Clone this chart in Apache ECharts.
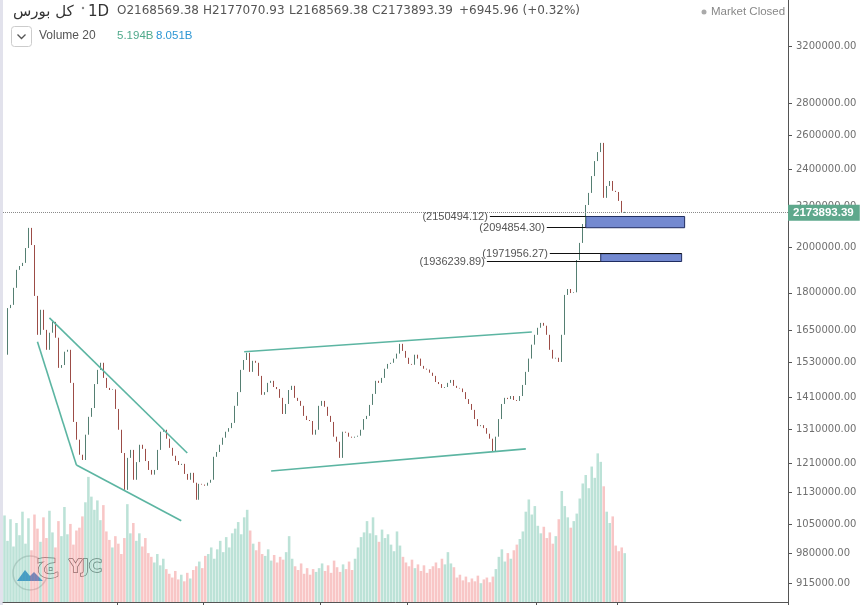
<!DOCTYPE html>
<html>
<head>
<meta charset="utf-8">
<script src="https://cdn.jsdelivr.net/npm/echarts@6/dist/echarts.min.js"></script>
<style>
  html, body { margin: 0; padding: 0; background: #fff; }
  #chart { width: 863px; height: 605px; }
</style>
</head>
<body>
<div id="chart"></div>
<script>
// closing prices, one per daily slot
const closes = [
  1558000, 1737000, 1750000, 1821000, 1899000, 1916000, 1930000, 1998000, 2094000, 2012000,
  1787000, 1632000, 1730000, 1651000, 1576000, 1640000, 1682000, 1621000, 1511000, 1521000,
  1569000, 1576000, 1459000, 1332000, 1278000, 1234000, 1219000, 1293000, 1348000, 1376000,
  1455000, 1504000, 1529000, 1476000, 1442000, 1435000, 1437000, 1373000, 1308000, 1239000,
  1137000, 1225000, 1248000, 1164000, 1213000, 1263000, 1251000, 1216000, 1191000, 1178000,
  1191000, 1248000, 1302000, 1308000, 1281000, 1254000, 1231000, 1216000, 1205000, 1208000,
  1180000, 1164000, 1183000, 1156000, 1111000, 1153000, 1151000, 1148000, 1156000, 1164000,
  1228000, 1242000, 1263000, 1284000, 1302000, 1313000, 1329000, 1383000, 1428000, 1504000,
  1539000, 1565000, 1497000, 1536000, 1529000, 1483000, 1419000, 1428000, 1459000, 1466000,
  1445000, 1438000, 1409000, 1357000, 1389000, 1435000, 1449000, 1409000, 1399000, 1383000,
  1351000, 1338000, 1335000, 1293000, 1308000, 1383000, 1399000, 1380000, 1351000, 1332000,
  1287000, 1272000, 1225000, 1302000, 1299000, 1287000, 1284000, 1287000, 1290000, 1308000,
  1341000, 1351000, 1386000, 1422000, 1466000, 1459000, 1476000, 1508000, 1525000, 1529000,
  1544000, 1562000, 1598000, 1572000, 1547000, 1525000, 1522000, 1558000, 1544000, 1518000,
  1508000, 1505000, 1494000, 1483000, 1462000, 1455000, 1442000, 1445000, 1459000, 1469000,
  1449000, 1442000, 1440000, 1428000, 1405000, 1389000, 1370000, 1341000, 1319000, 1322000,
  1313000, 1296000, 1281000, 1242000, 1287000, 1341000, 1389000, 1409000, 1405000, 1415000,
  1402000, 1399000, 1415000, 1452000, 1497000, 1544000, 1595000, 1632000, 1659000, 1678000,
  1667000, 1632000, 1576000, 1544000, 1547000, 1532000, 1632000, 1791000, 1816000, 1799000,
  1802000, 1943000, 2022000, 2113000, 2209000, 2272000, 2363000, 2447000, 2499000, 2553000,
  2246000, 2309000, 2336000, 2283000, 2277000, 2230000, 2168569.38, 2173893.39
];

// volume in billions
const volumes = [
  9.2, 6.5, 8.8, 5.9, 8.4, 7.1, 9.6, 6.2, 8.9, 5.5,
  9.3, 7.8, 6.4, 9.0, 6.8, 9.7, 7.4, 5.8, 8.6, 7.0,
  10.1, 7.2, 8.3, 6.1, 7.6, 7.9, 9.1, 10.6, 13.3, 11.2,
  9.8, 10.8, 8.7, 10.3, 7.5, 6.6, 5.8, 7.0, 6.2, 5.1,
  6.8, 10.4, 7.3, 8.4, 6.5, 7.3, 5.9, 6.8, 5.2, 4.8,
  4.2, 5.1, 3.9, 4.6, 3.5, 3.0, 2.6, 3.3, 2.4, 2.9,
  2.2, 3.1, 2.5, 3.4, 3.8, 4.3, 3.6, 4.9, 5.1, 5.8,
  4.6, 5.6, 6.5, 5.3, 6.9, 5.8, 7.3, 7.8, 8.5, 7.2,
  9.0, 9.8, 7.6, 6.2, 5.5, 6.4, 5.1, 4.9, 5.6, 4.4,
  5.0, 4.2, 4.8, 4.5, 5.3, 7.0, 4.6, 3.8, 3.4, 4.1,
  3.0, 3.6, 2.9, 3.5, 3.2, 3.6, 4.1, 3.3, 3.9, 3.1,
  4.4, 3.7, 3.2, 4.0, 3.5, 4.3, 3.4, 4.6, 5.8, 6.9,
  7.4, 8.6, 7.3, 9.0, 7.1, 6.4, 7.7, 6.8, 7.2, 6.1,
  5.4, 7.5, 6.0, 4.8, 4.2, 3.8, 4.5, 3.6, 4.0, 3.3,
  3.9, 3.1, 3.5, 3.8, 4.2, 3.6, 4.6, 4.0, 5.3, 4.1,
  3.7, 2.6, 2.9, 2.3, 2.7, 2.1, 2.5, 2.2, 2.8, 2.0,
  2.4, 2.6, 2.1, 2.7, 3.5, 4.8, 5.6, 4.3, 5.2, 4.6,
  5.5, 6.1, 6.7, 7.5, 9.6, 10.9, 9.3, 10.2, 8.1, 7.3,
  8.0, 6.8, 7.4, 6.2, 7.0, 8.8, 11.8, 10.2, 9.0, 7.9,
  8.6, 9.4, 11.0, 12.6, 13.5, 12.1, 14.4, 13.2, 15.8, 14.9,
  12.3, 9.6, 8.4, 9.1, 6.0, 5.4, 5.8, 5.194
];

const yTicks = [915000, 980000, 1050000, 1130000, 1210000, 1310000, 1410000, 1530000,
  1650000, 1800000, 2000000, 2200000, 2400000, 2600000, 2800000, 3200000];
const xTickSlots = [38, 67, 106, 135, 178, 205];
const slotCount = 262;          // daily slots incl. empty future space
const priceMin = 875400, priceMax = 3562300;
const volMax = 64;

// last bar info for the header
const lastBar = { o: 2168569.38, h: 2177070.93, l: 2168569.38, c: 2173893.39, chg: 6945.96, pct: 0.32 };
const volLast = 5.194, volMA = 8.051;

// drawn trend lines: [slot, price] -> [slot, price]
const trendLines = [
  [[15, 1698000], [61, 1239000]],
  [[11, 1606000], [24, 1205000]],
  [[24, 1205000], [59, 1058000]],
  [[80, 1569000], [176, 1643000]],
  [[89, 1188000], [174, 1251000]]
];
// order block levels and their slot spans
const obLevels = [2150494.12, 2094854.30, 1971956.27, 1936239.89];
const obLineSpans = [[162, 194], [181, 194], [182, 226], [161, 199]];
const obBoxes = [[194, 227, 0, 1], [199, 226, 2, 3]];

const L = Math.log;
const slots = Array.from({ length: slotCount }, (_, i) => i);

const upColor = '#557f72', downColor = '#9c4c46';
const ohlc = closes.map((c, i) => {
  const o = i ? closes[i - 1] : c;
  return [L(o), L(c), L(Math.min(o, c)), L(Math.max(o, c))];
});
const volData = volumes.map((v, i) => {
  const up = closes[i] >= (i ? closes[i - 1] : closes[i]);
  return { value: v, itemStyle: { color: up ? 'rgba(96,186,160,0.42)' : 'rgba(238,118,118,0.42)' } };
});

const tickLabel = v => {
  const t = yTicks.find(t => Math.abs(L(t) - v) < 1e-6);
  return t ? t.toFixed(2) : '';
};

const markLines = [
  {
    yAxis: L(lastBar.c),
    lineStyle: { color: '#8a8a8a', type: 'dotted', width: 1 },
    label: {
      show: true, position: 'end', distance: 0, formatter: lastBar.c.toFixed(2),
      backgroundColor: '#5ea88c', color: '#fff', fontWeight: 'bold',
      fontFamily: 'Liberation Sans', fontSize: 11.5, padding: [2, 6, 2, 5]
    }
  }
];
trendLines.forEach(([a, b]) => {
  markLines.push([
    { coord: [a[0], L(a[1])], lineStyle: { color: '#5cb5a2', width: 1.6, type: 'solid' }, label: { show: false } },
    { coord: [b[0], L(b[1])] }
  ]);
});
obLineSpans.forEach(([s1, s2], k) => {
  markLines.push([
    {
      coord: [s1, L(obLevels[k])], lineStyle: { color: '#111', width: 1.2, type: 'solid' },
      label: {
        show: true, position: 'start', distance: 2, formatter: '(' + obLevels[k].toFixed(2) + ')',
        color: '#555', fontSize: 11, fontFamily: 'Liberation Sans'
      }
    },
    { coord: [s2, L(obLevels[k])] }
  ]);
});

const txt = (x, y, text, size, color, family) => ({
  type: 'text', x, y, silent: true,
  style: { text, fill: color, font: size + 'px "' + (family || 'DejaVu Sans') + '"', verticalAlign: 'middle', align: 'left' }
});

const chart = echarts.init(document.getElementById('chart'));
chart.setOption({
  animation: false,
  backgroundColor: '#fff',
  grid: { left: 3, right: 75, top: 0, bottom: 3, outerBoundsMode: 'none' },
  xAxis: {
    type: 'category', data: slots, boundaryGap: true,
    axisLine: { lineStyle: { color: '#555' } },
    axisTick: { show: true, length: 4, interval: i => xTickSlots.includes(i), lineStyle: { color: '#555' } },
    axisLabel: { show: false },
    splitLine: { show: false }
  },
  yAxis: [
    {
      type: 'value', position: 'right', min: L(priceMin), max: L(priceMax),
      axisLine: { show: true, lineStyle: { color: '#555' } },
      axisTick: { show: true, length: 4, customValues: yTicks.map(L), lineStyle: { color: '#555' } },
      axisLabel: {
        customValues: yTicks.map(L), formatter: tickLabel, color: '#707070',
        fontSize: 10, fontFamily: 'DejaVu Sans', margin: 8
      },
      splitLine: { show: false }
    },
    { type: 'value', min: 0, max: volMax, show: false, splitLine: { show: false } }
  ],
  series: [
    {
      type: 'bar', yAxisIndex: 1, data: volData, barWidth: '85%', silent: true
    },
    {
      type: 'candlestick', data: ohlc, barWidth: 1, silent: true,
      itemStyle: { color: upColor, color0: downColor, borderColor: upColor, borderColor0: downColor, borderWidth: 1 },
      markLine: { symbol: 'none', silent: true, animation: false, data: markLines },
      markArea: {
        silent: true,
        itemStyle: { color: '#7389d0', borderColor: '#1f2c60', borderWidth: 1 },
        data: obBoxes.map(([s1, s2, a, b]) => [{ coord: [s1, L(obLevels[a])] }, { coord: [s2, L(obLevels[b])] }])
      }
    }
  ],
  graphic: [
    { type: 'rect', shape: { x: 0, y: 0, width: 3, height: 605 }, style: { fill: '#e2e2ec' }, silent: true },
    txt(13, 12, 'کل بورس', 15, '#333'),
    { type: 'circle', shape: { cx: 83, cy: 8, r: 1.2 }, style: { fill: '#888' }, silent: true },
    txt(88, 12, '1D', 15, '#333'),
    txt(117, 11, 'O' + lastBar.o.toFixed(2), 12, '#555'),
    txt(203, 11, 'H' + lastBar.h.toFixed(2), 12, '#555'),
    txt(289, 11, 'L' + lastBar.l.toFixed(2), 12, '#555'),
    txt(372, 11, 'C' + lastBar.c.toFixed(2), 12, '#555'),
    txt(459, 11, '+' + lastBar.chg.toFixed(2) + ' (+' + lastBar.pct.toFixed(2) + '%)', 12, '#555'),
    { type: 'circle', shape: { cx: 704, cy: 12, r: 2.5 }, style: { fill: '#aaa' }, silent: true },
    txt(711, 12, 'Market Closed', 11.5, '#888', 'Liberation Sans'),
    { type: 'rect', shape: { x: 11.5, y: 26.5, width: 20, height: 20, r: 3 }, style: { fill: '#fff', stroke: '#ccc' }, silent: true },
    { type: 'polyline', shape: { points: [[17.5, 34.5], [21.5, 38.5], [25.5, 34.5]] }, style: { stroke: '#555', lineWidth: 1.3, fill: null }, silent: true },
    txt(39, 36, 'Volume 20', 12, '#555', 'Liberation Sans'),
    txt(117, 36, volLast.toFixed(3) + 'B', 11.5, '#4fa98b', 'Liberation Sans'),
    txt(156, 36, volMA.toFixed(3) + 'B', 11.5, '#2c97d4', 'Liberation Sans'),
    // YJC watermark
    { type: 'circle', shape: { cx: 30, cy: 573, r: 17 }, style: { fill: 'rgba(255,255,255,0.92)', stroke: '#d5d5d5', lineWidth: 1.5 }, silent: true },
    { type: 'polygon', shape: { points: [[17, 581], [25, 570], [30, 576], [34, 572], [43, 581]] }, style: { fill: '#3d8fd8' }, silent: true },
    {
      type: 'text', x: 36, y: 563, silent: true,
      style: { text: 'ج', font: 'bold 30px "DejaVu Sans"', fill: '#fff', stroke: '#666', lineWidth: 1.4, verticalAlign: 'middle', align: 'left' }
    },
    {
      type: 'text', x: 69, y: 567, silent: true,
      style: { text: 'YJC', font: 'bold 18px "DejaVu Sans"', fill: '#fff', stroke: '#666', lineWidth: 1.5, verticalAlign: 'middle', align: 'left' }
    }
  ]
});
</script>
</body>
</html>
